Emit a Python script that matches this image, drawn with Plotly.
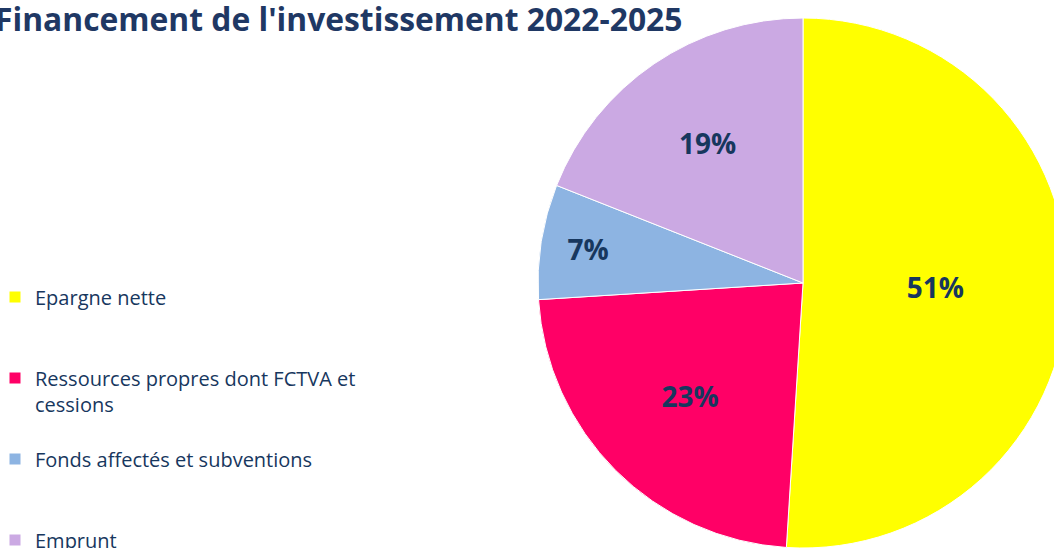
import plotly.graph_objects as go

# ---- data ----
categories = [
    "Epargne nette",
    "Ressources propres dont FCTVA et<br>cessions",
    "Fonds affectés et subventions",
    "Emprunt",
]
values = [51, 23, 7, 19]
colors = ["#FFFF00", "#FF0066", "#8DB4E2", "#CBA9E3"]
title_text = "Financement de l'investissement 2022-2025"

# legend labels padded so that the symbol aligns with the first text line
NB = "\u00a0"
legend_labels = []
for c in categories:
    n_lines = c.count("<br>") + 1
    pad_below = max(0, 2 - n_lines)
    legend_labels.append(NB + "<br>" + c + ("<br>" + NB) * pad_below)

W, H = 1080, 548
TXT = "#17375E"
LEG_SIZE = 20
item_h = 3 * LEG_SIZE * 1.3 + 3

fig = go.Figure(
    go.Pie(
        labels=legend_labels,
        values=values,
        sort=False,
        direction="clockwise",
        rotation=0,
        marker=dict(colors=colors, line=dict(color="white", width=1)),
        texttemplate="%{percent:.0%}",
        textposition="inside",
        insidetextorientation="horizontal",
        textfont=dict(family="Open Sans", size=28, color=TXT, weight="bold"),
        domain=dict(x=[538 / W, 1068 / W], y=[0, 530 / H]),
        hoverinfo="label+percent",
    )
)

leg_top = 297 - 5 - item_h / 2

fig.update_layout(
    width=W,
    height=H,
    margin=dict(l=0, r=0, t=0, b=0, autoexpand=False),
    paper_bgcolor="white",
    plot_bgcolor="white",
    showlegend=True,
    legend=dict(
        x=-5 / W,
        xanchor="left",
        y=1 - leg_top / H,
        yanchor="top",
        font=dict(family="Open Sans", size=LEG_SIZE, color=TXT),
        bgcolor="rgba(0,0,0,0)",
        borderwidth=0,
    ),
    annotations=[
        dict(
            text="<b>" + title_text + "</b>",
            xref="paper",
            yref="paper",
            x=-7 / W,
            xanchor="left",
            y=1 - 18 / H,
            yanchor="middle",
            showarrow=False,
            font=dict(family="Open Sans", size=31.8, color="#1F3864"),
        )
    ],
)

fig.write_html(
    "out.html",
    config={"displayModeBar": False},
    post_script="document.body.style.margin='0';document.body.style.overflow='hidden';",
)
